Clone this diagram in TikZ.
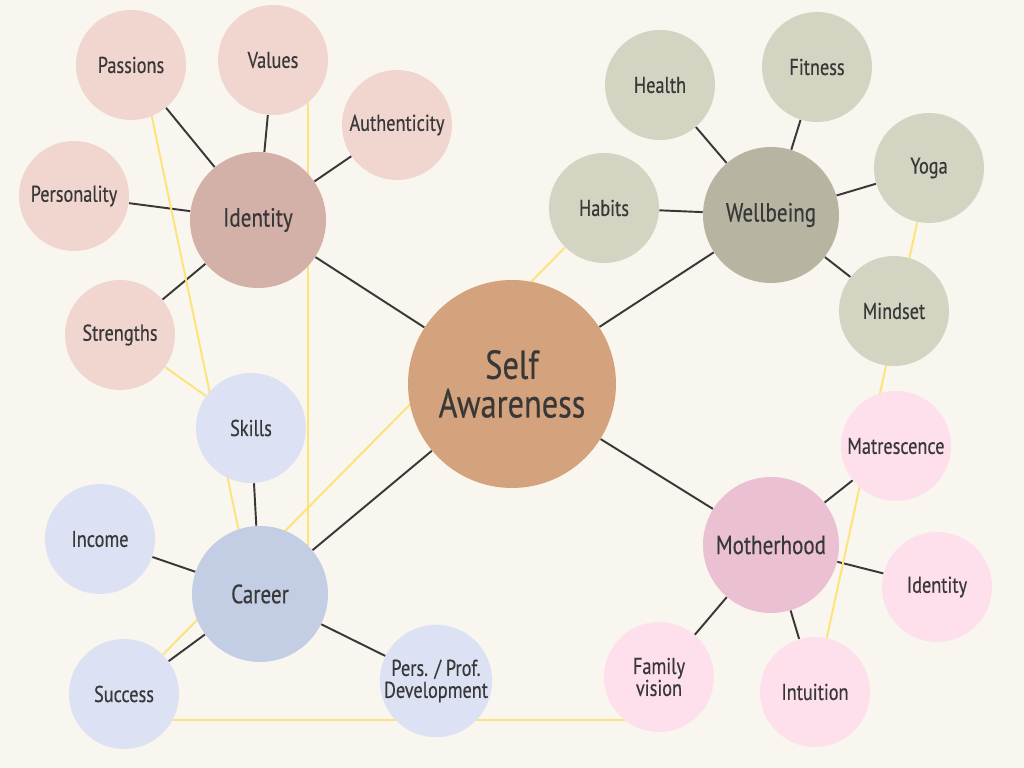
\documentclass[tikz,border=0pt]{standalone}
\usepackage{fontspec}
\setmainfont{PT Sans}[FakeStretch=0.8, FakeBold=0.4]
\usetikzlibrary{calc, backgrounds}
\definecolor{paper}{HTML}{F9F5EF}
\definecolor{ink}{HTML}{383838}
\definecolor{sunny}{HTML}{FDE37A}
\definecolor{selfcol}{HTML}{D4A37D}
\definecolor{idhub}{HTML}{D3B1A8}
\definecolor{idleaf}{HTML}{F0D6CF}
\definecolor{carhub}{HTML}{C3CDE3}
\definecolor{carleaf}{HTML}{DCE2F3}
\definecolor{wellhub}{HTML}{B7B5A2}
\definecolor{wellleaf}{HTML}{D3D4C1}
\definecolor{momhub}{HTML}{EAC0D2}
\definecolor{momleaf}{HTML}{FEE0EC}
\pgfdeclarelayer{paperlayer}
\pgfsetlayers{paperlayer,background,main}

\begin{document}
\begin{tikzpicture}[
    bubble/.style={circle, inner sep=0pt, minimum size=2.2cm, text=ink,
      align=center, font=\fontsize{13}{12.5}\selectfont},
    hub/.style={bubble, minimum size=2.72cm, font=\fontsize{15}{16}\selectfont},
    link/.style={ink, line width=1.1pt},
    tie/.style={sunny, line width=1.1pt},
  ]
    \begin{pgfonlayer}{paperlayer}
      \fill[paper] (0,0) rectangle (20.48,15.36);
    \end{pgfonlayer}
    \useasboundingbox (0,0) rectangle (20.48,15.36);

    % centre
    \node[circle, fill=selfcol, minimum size=4.16cm, inner sep=0pt, text=ink,
      align=center, font=\fontsize{23}{22}\selectfont] (self) at (10.24,7.68) {Self\\Awareness};

    % identity
    \node[hub, fill=idhub] (identity) at (5.16,10.96) {Identity};
    \node[bubble, fill=idleaf] (passions) at (2.62,14.06) {Passions};
    \node[bubble, fill=idleaf] (values) at (5.46,14.16) {Values};
    \node[bubble, fill=idleaf] (authenticity) at (7.94,12.86) {Authenticity};
    \node[bubble, fill=idleaf] (personality) at (1.48,11.44) {Personality};
    \node[bubble, fill=idleaf] (strengths) at (2.40,8.66) {Strengths};

    % career
    \node[hub, fill=carhub] (career) at (5.20,3.48) {Career};
    \node[bubble, fill=carleaf] (skills) at (5.02,6.80) {Skills};
    \node[bubble, fill=carleaf] (income) at (2.00,4.58) {Income};
    \node[bubble, fill=carleaf] (success) at (2.48,1.48) {Success};
    \node[bubble, fill=carleaf] (persprof) at (8.72,1.74) {Pers. / Prof.\\Development};

    % wellbeing
    \node[hub, fill=wellhub] (wellbeing) at (15.42,11.06) {Wellbeing};
    \node[bubble, fill=wellleaf] (habits) at (12.08,11.20) {Habits};
    \node[bubble, fill=wellleaf] (health) at (13.20,13.66) {Health};
    \node[bubble, fill=wellleaf] (fitness) at (16.34,14.02) {Fitness};
    \node[bubble, fill=wellleaf] (yoga) at (18.58,12.00) {Yoga};
    \node[bubble, fill=wellleaf] (mindset) at (17.88,9.14) {Mindset};

    % motherhood
    \node[hub, fill=momhub] (motherhood) at (15.42,4.46) {Motherhood};
    \node[bubble, fill=momleaf] (matrescence) at (17.92,6.44) {Matrescence};
    \node[bubble, fill=momleaf] (momidentity) at (18.74,3.62) {Identity};
    \node[bubble, fill=momleaf] (intuition) at (16.30,1.52) {Intuition};
    \node[bubble, fill=momleaf] (family) at (13.18,1.82) {Family\\vision};

    \coordinate (succbase) at ($(success)+(0,-0.52)$);

    \begin{scope}[on background layer]
      \draw[link] (self) -- (identity);
      \draw[link] (self) -- (career);
      \draw[link] (self) -- (wellbeing);
      \draw[link] (self) -- (motherhood);
      \foreach \leaf in {passions, values, authenticity, personality, strengths}
        \draw[link] (identity) -- (\leaf);
      \foreach \leaf in {skills, income, success, persprof}
        \draw[link] (career) -- (\leaf);
      \foreach \leaf in {habits, health, fitness, yoga, mindset}
        \draw[link] (wellbeing) -- (\leaf);
      \foreach \leaf in {matrescence, momidentity, intuition, family}
        \draw[link] (motherhood) -- (\leaf);

      % cross links
      \draw[tie] ($(passions)+(0.2,0)$) -- ($(career)+(-0.16,0)$);
      \draw[tie] (strengths) -- (skills);
      \draw[tie] (career.north east |- values) -- (career.north east);
      \draw[tie] (habits) -- (success);
      \draw[tie] (succbase) -- (succbase -| family);
      \draw[tie] (yoga) -- (intuition);
    \end{scope}
  \end{tikzpicture}
\end{document}
